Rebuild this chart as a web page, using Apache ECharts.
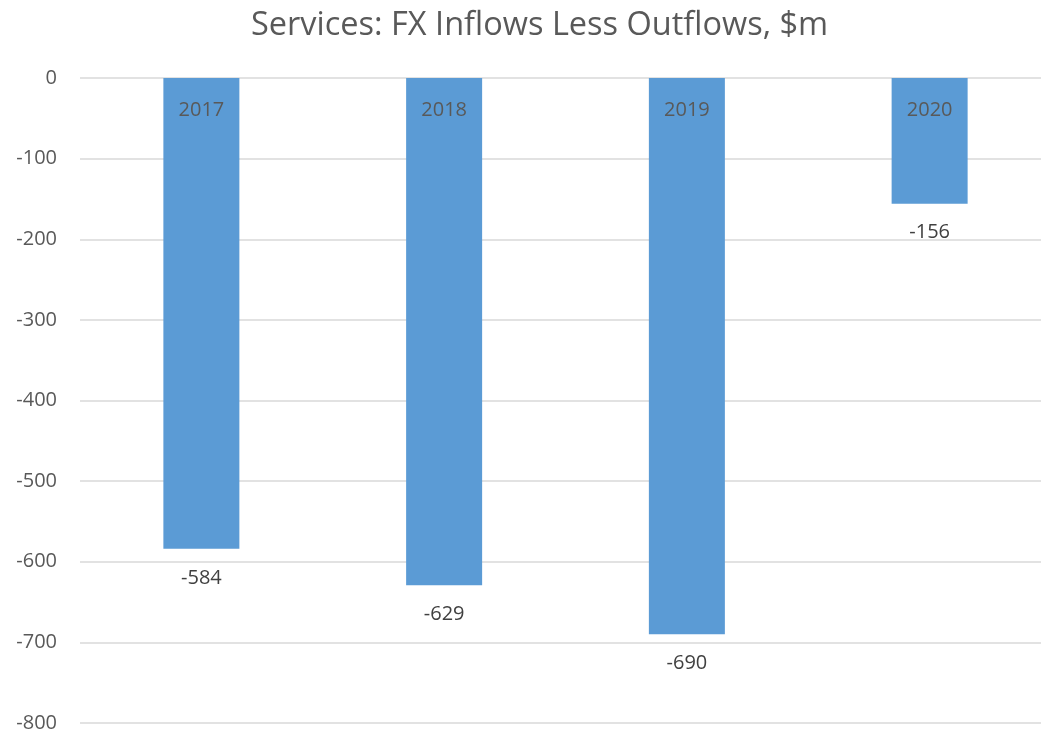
<!DOCTYPE html>
<html><head><meta charset="utf-8">
<script src="https://cdn.jsdelivr.net/npm/echarts@6/dist/echarts.min.js"></script>
<style>html,body{margin:0;padding:0;background:#fff}#c{width:1041px;height:734px}</style>
</head><body><div id="c"></div>
<script>
const titleText = 'Services: FX Inflows Less Outflows, $m';
const categories = ['2017', '2018', '2019', '2020'];
const values = [-584, -629, -690, -156];
const yMin = -800, yMax = 0, yStep = 100;

const chart = echarts.init(document.getElementById('c'), null, {renderer: 'canvas'});
const font = '"Open Sans", "Liberation Sans", sans-serif';
chart.setOption({
  animation: false,
  backgroundColor: '#fff',
  title: {text: titleText, left: 246, top: 4,
    textStyle: {fontFamily: font, fontSize: 32.5, fontWeight: 'normal', color: '#595959'}},
  grid: {left: 80, right: -10, top: 78, bottom: 11, containLabel: false, outerBoundsMode: 'none'},
  xAxis: {type: 'category', data: categories, position: 'top', z: 5,
    axisLine: {show: false}, axisTick: {show: false},
    axisLabel: {inside: true, margin: 22, fontFamily: font, fontSize: 20, color: '#595959'}},
  yAxis: {type: 'value', min: yMin, max: yMax, interval: yStep,
    axisLine: {show: false}, axisTick: {show: false},
    splitLine: {lineStyle: {color: '#D9D9D9', width: 1.5}},
    axisLabel: {margin: 23, fontFamily: font, fontSize: 20, color: '#595959'}},
  series: [{type: 'bar', data: values, barWidth: 76, z: 3,
    itemStyle: {color: '#5B9BD5'},
    label: {show: true, position: 'bottom', distance: 19, fontFamily: font, fontSize: 20, color: '#404040'}}]
});
</script></body></html>
